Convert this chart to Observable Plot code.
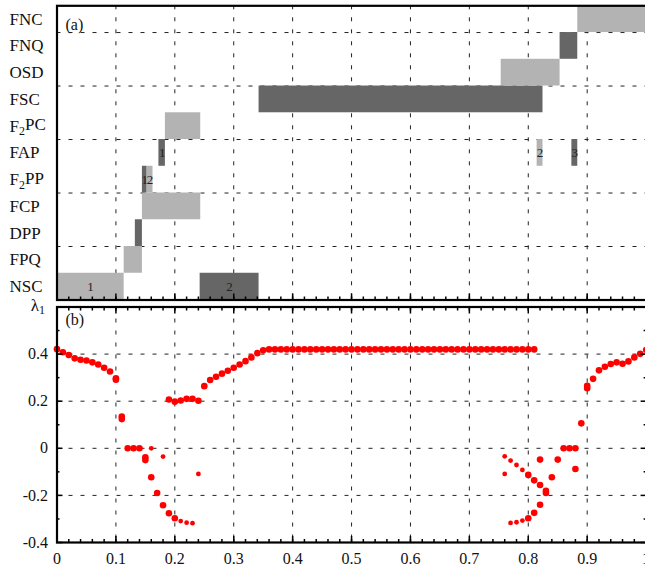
<!DOCTYPE html>
<html><head><meta charset="utf-8">
<script src="https://cdn.jsdelivr.net/npm/d3@7"></script>
<script src="https://cdn.jsdelivr.net/npm/@observablehq/plot@0.6"></script>
<style>
html,body{margin:0;padding:0;background:#fff;overflow:hidden}
#wrap{position:relative;width:645px;height:569px;overflow:hidden;background:#fff}
#wrap > div{position:absolute;left:0}
#wrap svg, #wrap svg text, #wrap svg g{font-family:"Liberation Serif","Times New Roman",serif !important}
</style></head><body><div id="wrap"><div id="pa" style="top:0px"></div><div id="pb" style="top:288px"></div></div>
<script>
// ---------- Panel (a): phase diagram ----------
const phases = ["NSC","FPQ","DPP","FCP","F₂PP","FAP","F₂PC","FSC","OSD","FNQ","FNC"];
const barPhase = ["NSC","NSC","FPQ","DPP","FCP","F₂PP","F₂PP","FAP","FAP","FAP","F₂PC","FSC","OSD","FNQ","FNC"];
const barStart = [0,    0.243,0.114,0.133,0.145,0.145,0.153,0.173,0.815,0.874,0.184,0.343,0.754,0.854,0.884];
const barEnd   = [0.114,0.343,0.145,0.145,0.244,0.153,0.163,0.184,0.825,0.884,0.244,0.825,0.854,0.884,1.0];
const barKind  = ["light","dark","light","dark","light","dark","light","dark","light","dark","light","dark","light","dark","light"];
const barLabel = ["1","2","","","","1","2","1","2","3","","","","",""];

// ---------- Panel (b): largest Lyapunov exponent ----------
const leftBranch = [[0,0.421],[0.01,0.408],[0.02,0.396],[0.03,0.382],[0.04,0.376],[0.05,0.373],[0.06,0.365],[0.07,0.356],[0.08,0.342],[0.09,0.326],[0.10,0.297],[0.10,0.291],[0.11,0.135],[0.11,0.124]];
const dipBranch = [[0.12,0],[0.13,0],[0.14,0],[0.15,-0.038],[0.15,-0.05],[0.16,-0.123],[0.17,-0.19],[0.18,-0.242],[0.19,-0.276],[0.20,-0.297],
  [0.19,0.207],[0.20,0.198],[0.21,0.203],[0.22,0.21],[0.23,0.21],[0.24,0.202],
  [0.25,0.264],[0.26,0.29],[0.27,0.304],[0.28,0.317],[0.29,0.329],[0.30,0.342],[0.31,0.356],[0.32,0.37],[0.33,0.386],[0.34,0.404],[0.35,0.416]];
const plateau = [[0.36,0.42],[0.37,0.42],[0.38,0.42],[0.39,0.42],[0.40,0.42],[0.41,0.42],[0.42,0.42],[0.43,0.42],[0.44,0.42],[0.45,0.42],
  [0.46,0.42],[0.47,0.42],[0.48,0.42],[0.49,0.42],[0.50,0.42],[0.51,0.42],[0.52,0.42],[0.53,0.42],[0.54,0.42],[0.55,0.42],
  [0.56,0.42],[0.57,0.42],[0.58,0.42],[0.59,0.42],[0.60,0.42],[0.61,0.42],[0.62,0.42],[0.63,0.42],[0.64,0.42],[0.65,0.42],
  [0.66,0.42],[0.67,0.42],[0.68,0.42],[0.69,0.42],[0.70,0.42],[0.71,0.42],[0.72,0.42],[0.73,0.42],[0.74,0.42],[0.75,0.42],
  [0.76,0.42],[0.77,0.42],[0.78,0.42],[0.79,0.42],[0.80,0.42],[0.81,0.42]];
const rightBranch = [[0.80,-0.113],[0.80,-0.297],[0.81,-0.136],[0.81,-0.274],[0.82,-0.156],[0.82,-0.24],[0.82,-0.048],[0.83,-0.18],[0.83,-0.19],
  [0.84,-0.123],[0.85,-0.048],[0.86,0],[0.87,0],[0.88,0],[0.88,-0.088],[0.89,0.106],[0.90,0.265],[0.90,0.255],[0.91,0.295],[0.92,0.331],
  [0.93,0.346],[0.94,0.358],[0.95,0.365],[0.96,0.359],[0.97,0.369],[0.98,0.386],[0.99,0.401],[1.00,0.418]];
const smallDots = [[0.16,0],[0.18,-0.035],[0.21,-0.309],[0.22,-0.316],[0.23,-0.318],[0.24,-0.109],
  [0.76,-0.034],[0.76,-0.109],[0.77,-0.052],[0.77,-0.317],[0.78,-0.071],[0.78,-0.314],[0.79,-0.092],[0.79,-0.307]];

// ---------- ticks ----------
const xMajor = [0,0.1,0.2,0.3,0.4,0.5,0.6,0.7,0.8,0.9,1];
const xGrid = [0.1,0.2,0.3,0.4,0.5,0.6,0.7,0.8,0.9];
const xMinor = d3.range(0, 51).map(i => i / 50);
const yMajorB = [-0.4,-0.2,0,0.2,0.4];
const yGridB = [-0.2,0,0.2,0.4];
const yMinorB = [-0.3,-0.1,0.1,0.3,0.5];

const W = 660, mL = 56.5, mR = W - 645.6;
const font = '"Liberation Serif","Times New Roman",serif';
const baseStyle = {fontFamily: font, background: "transparent", maxWidth: "none", overflow: "visible", color: "#000"};
const dash = {stroke: "#222", strokeWidth: 1, strokeDasharray: "4,8"};
const tk = {fill: "none", strokeWidth: 1.5, label: null};

const bars = barPhase.map((p, i) => ({row: phases.indexOf(p), x1: barStart[i], x2: barEnd[i], kind: barKind[i], label: barLabel[i]}));
const rowGrid = d3.range(1, phases.length - 1, 2).map(i => i + 0.5);

const plotA = Plot.plot({
  width: W, height: 304, marginTop: 5.3, marginBottom: 4.5, marginLeft: mL, marginRight: mR,
  style: baseStyle,
  x: {domain: [0, 1], label: null},
  y: {domain: [-0.5, phases.length - 0.5], label: null},
  color: {domain: ["light", "dark"], range: ["#b3b3b3", "#666666"]},
  marks: [
    Plot.ruleX(xGrid, dash),
    Plot.ruleY(rowGrid, dash),
    Plot.rect(bars, {x1: "x1", x2: "x2", y1: d => d.row - 0.5, y2: d => d.row + 0.5, fill: "kind"}),
    Plot.text(bars.filter(d => d.label), {x: d => (d.x1 + d.x2) / 2, y: "row", text: "label", fontSize: 13, fill: "#222", fontFamily: font}),
    Plot.axisY(d3.range(phases.length), {tickFormat: i => phases[i], tickSize: 0, tickPadding: 0, textAnchor: "start", dx: -47.5, fontSize: 17, fill: "#111", label: null, fontFamily: font}),
    Plot.axisX(xMajor, {anchor: "bottom", tickSize: -6, ...tk}),
    Plot.axisX(xMinor, {anchor: "bottom", tickSize: -3, ...tk}),
    Plot.frame({stroke: "#000", strokeWidth: 2.2}),
    Plot.text(["(a)"], {frameAnchor: "top-left", dx: 8.5, dy: 13, lineAnchor: "top", textAnchor: "start", fontSize: 16, fill: "#111", fontFamily: font})
  ]
});

const plotB = Plot.plot({
  width: W, height: 281, marginTop: 18.5, marginBottom: 27, marginLeft: mL, marginRight: mR,
  style: baseStyle,
  x: {domain: [0, 1], label: null},
  y: {domain: [-0.4, 0.6], label: null},
  marks: [
    Plot.ruleX(xGrid, dash),
    Plot.ruleY(yGridB, dash),
    Plot.dot(leftBranch.concat(dipBranch, plateau, rightBranch), {x: d => d[0], y: d => d[1], r: 3.3, fill: "#ff0000"}),
    Plot.dot(smallDots, {x: d => d[0], y: d => d[1], r: 2.4, fill: "#ff0000"}),
    Plot.axisX(xMajor, {anchor: "bottom", tickSize: 0, tickPadding: 10, tickFormat: d => String(d), fontSize: 16, fill: "#111", label: null, fontFamily: font}),
    Plot.axisX(xMajor, {anchor: "bottom", tickSize: -6, ...tk}),
    Plot.axisX(xMinor, {anchor: "bottom", tickSize: -3, ...tk}),
    Plot.axisX(xMajor, {anchor: "top", tickSize: -6, ...tk}),
    Plot.axisX(xMinor, {anchor: "top", tickSize: -3, ...tk}),
    Plot.axisY(yMajorB, {anchor: "left", tickSize: 0, tickPadding: 9, tickFormat: d => String(d), fontSize: 16, fill: "#111", label: null, fontFamily: font}),
    Plot.axisY(yMajorB, {anchor: "left", tickSize: -6, ...tk}),
    Plot.axisY(yMinorB, {anchor: "left", tickSize: -3, ...tk}),
    Plot.axisY(yMajorB, {anchor: "right", tickSize: -6, ...tk}),
    Plot.axisY(yMinorB, {anchor: "right", tickSize: -3, ...tk}),
    Plot.frame({stroke: "#000", strokeWidth: 2.2}),
    Plot.text(["(b)"], {frameAnchor: "top-left", dx: 8.5, dy: 7, lineAnchor: "top", textAnchor: "start", fontSize: 16, fill: "#111", fontFamily: font}),
    Plot.text(["λ"], {frameAnchor: "top-left", dx: -18, dy: 4, lineAnchor: "bottom", textAnchor: "end", fontSize: 17, fill: "#111", fontFamily: font}),
    Plot.text(["1"], {frameAnchor: "top-left", dx: -18, dy: 7, lineAnchor: "bottom", textAnchor: "start", fontSize: 12, fill: "#111", fontFamily: font})
  ]
});

// subscript the "2" in F₂PC / F₂PP
d3.select(plotA).selectAll("text").each(function () {
  const t = this.textContent;
  if (t.includes("₂")) {
    const [a, b] = t.split("₂");
    const s = d3.select(this);
    s.text(null);
    s.append("tspan").text(a);
    s.append("tspan").attr("dy", "0.3em").attr("font-size", "70%").text("2");
    s.append("tspan").attr("dy", "-0.3em").text(b);
  }
});

document.getElementById("pa").appendChild(plotA);
document.getElementById("pb").appendChild(plotB);
</script></body></html>
